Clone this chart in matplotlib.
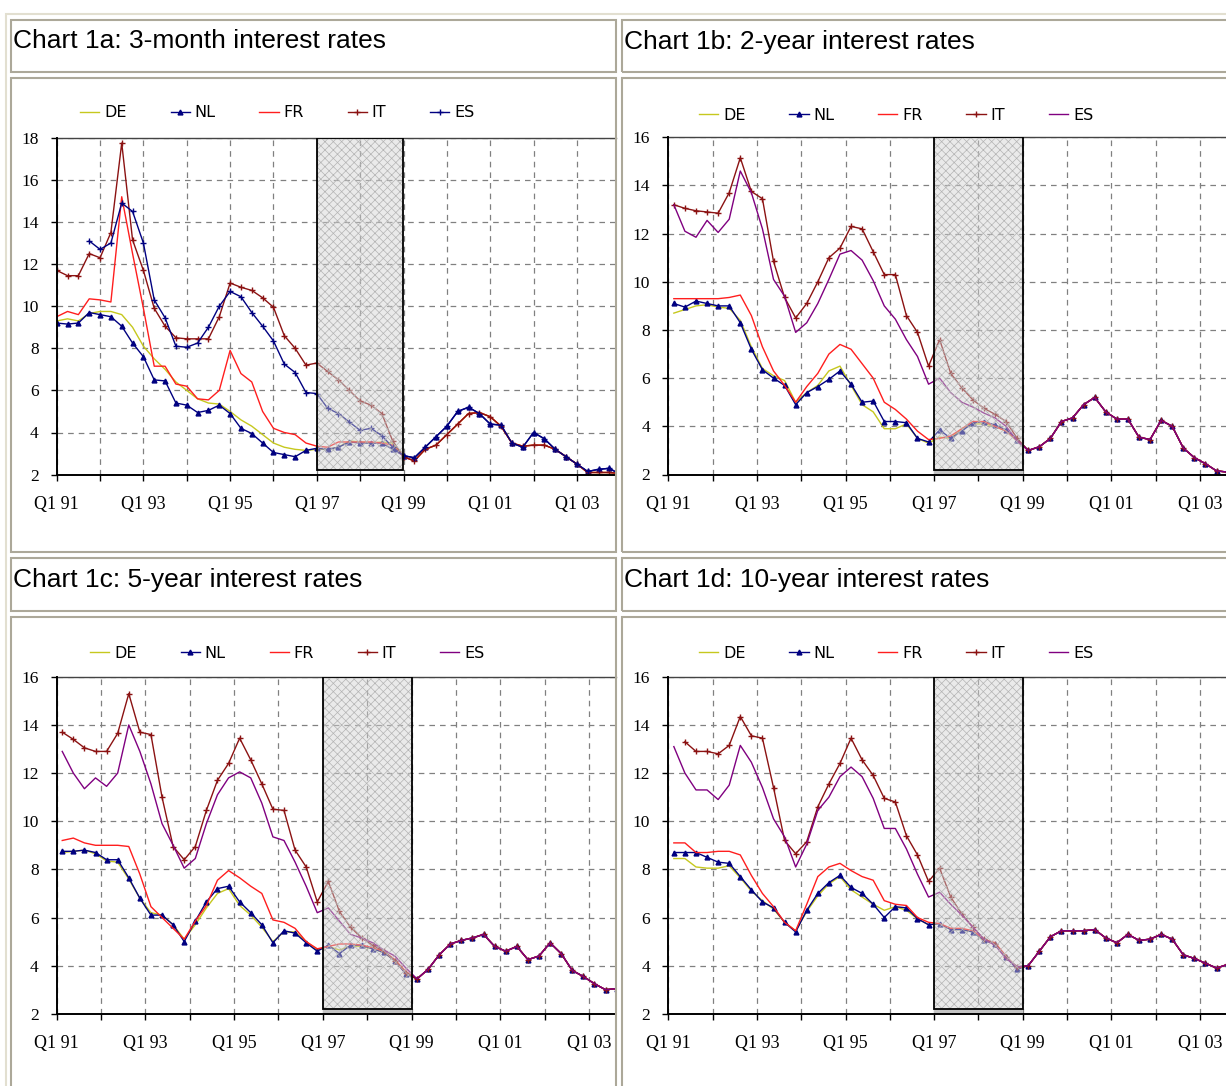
import numpy as np
import matplotlib

matplotlib.use("Agg")
import matplotlib.pyplot as plt
from matplotlib.patches import Rectangle

W, H = 1226, 1086
NAN = float("nan")

COUNTRIES = ["DE", "NL", "FR", "IT", "ES"]
YEARS = list(range(1991, 2004))

# quarterly values, Q1 1991 .. Q4 1998 (pre-EMU), then the common euro period
# Chart 1a: 3-month rates
M3_DE = [9.3, 9.4, 9.3, 9.65, 9.75, 9.75, 9.6, 9.0, 8.1, 7.5, 7.0, 6.4, 6.0, 5.6, 5.4, 5.35,
         5.0, 4.6, 4.3, 3.9, 3.5, 3.3, 3.2, 3.15, 3.2, 3.2, 3.3, 3.6, 3.55, 3.5, 3.55, 3.5]
M3_NL = [9.2, 9.15, 9.2, 9.7, 9.6, 9.5, 9.05, 8.25, 7.6, 6.5, 6.45, 5.4, 5.3, 4.95, 5.05, 5.3,
         4.9, 4.2, 3.95, 3.5, 3.05, 2.95, 2.85, 3.15, 3.25, 3.2, 3.3, 3.55, 3.5, 3.5, 3.5, 3.2]
M3_FR = [9.5, 9.75, 9.6, 10.35, 10.3, 10.2, 15.2, 12.5, 9.9, 7.15, 7.15, 6.3, 6.2, 5.6, 5.55, 6.0,
         7.9, 6.8, 6.4, 5.0, 4.2, 4.0, 3.9, 3.5, 3.35, 3.3, 3.55, 3.55, 3.55, 3.55, 3.5, 3.4]
M3_IT = [11.7, 11.45, 11.45, 12.5, 12.3, 13.5, 17.75, 13.15, 11.7, 9.9, 9.05, 8.5, 8.45, 8.45, 8.45, 9.5,
         11.1, 10.9, 10.75, 10.4, 9.95, 8.6, 8.0, 7.2, 7.3, 6.9, 6.5, 6.0, 5.5, 5.3, 4.9, 3.6]
M3_ES = [NAN, NAN, NAN, 13.1, 12.7, 13.0, 14.9, 14.5, 13.0, 10.3, 9.45, 8.1, 8.05, 8.25, 9.0, 10.0,
         10.7, 10.45, 9.7, 9.05, 8.35, 7.25, 6.85, 5.9, 5.85, 5.15, 4.9, 4.5, 4.1, 4.2, 3.85, 3.3]
M3_EMU_A = [2.9, 2.8, 3.3, 3.8, 4.3, 5.0, 5.2, 4.9, 4.4, 4.35, 3.5, 3.3, 4.0, 3.7, 3.2, 2.85,
            2.5, 2.15, 2.25, 2.3, 2.0]
M3_EMU_B = [2.85, 2.65, 3.2, 3.4, 3.9, 4.4, 4.9, 4.95, 4.75, 4.3, 3.5, 3.35, 3.4, 3.4, 3.2, 2.85,
            2.5, 2.1, 2.1, 2.1, 2.05]

# Chart 1b: 2-year rates
Y2_DE = [8.7, 8.85, 9.0, 9.05, 8.95, 8.9, 8.4, 7.3, 6.4, 6.1, 5.9, 5.0, 5.4, 5.7, 6.3, 6.5,
         5.7, 4.9, 4.6, 3.9, 3.9, 4.1, 3.5, 3.3, 3.55, 3.5, 3.9, 4.1, 4.1, 4.0, 3.8, 3.4]
Y2_NL = [9.1, 8.95, 9.2, 9.1, 9.0, 9.0, 8.3, 7.2, 6.35, 6.0, 5.7, 4.9, 5.4, 5.65, 5.95, 6.3,
         5.75, 5.0, 5.05, 4.2, 4.2, 4.15, 3.5, 3.35, 3.85, 3.5, 3.8, 4.15, 4.2, 4.05, 3.85, 3.45]
Y2_FR = [9.3, 9.3, 9.3, 9.3, 9.3, 9.35, 9.45, 8.6, 7.3, 6.3, 5.7, 5.0, 5.65, 6.2, 7.0, 7.4,
         7.2, 6.6, 6.0, 5.0, 4.7, 4.3, 3.8, 3.45, 3.5, 3.6, 3.9, 4.2, 4.2, 4.0, 3.8, 3.4]
Y2_IT = [13.2, 13.05, 12.95, 12.9, 12.85, 13.7, 15.15, 13.75, 13.45, 10.85, 9.35, 8.5, 9.1, 10.0, 11.0, 11.4,
         12.3, 12.2, 11.25, 10.3, 10.3, 8.6, 7.9, 6.5, 7.6, 6.2, 5.6, 5.1, 4.75, 4.5, 4.2, 3.5]
Y2_ES = [13.2, 12.1, 11.85, 12.55, 12.05, 12.6, 14.6, 13.7, 12.2, 10.1, 9.4, 7.9, 8.3, 9.1, 10.1, 11.15,
         11.3, 10.9, 10.05, 9.0, 8.45, 7.6, 6.9, 5.75, 6.0, 5.4, 5.0, 4.8, 4.55, 4.35, 4.0, 3.4]
Y2_EMU = [3.0, 3.15, 3.5, 4.2, 4.35, 4.9, 5.2, 4.6, 4.3, 4.3, 3.55, 3.45, 4.25, 4.0, 3.1, 2.7,
          2.45, 2.15, 2.1, 2.15]

# Chart 1c: 5-year rates
Y5_DE = [8.7, 8.75, 8.8, 8.65, 8.35, 8.3, 7.6, 6.8, 6.2, 6.1, 5.7, 5.1, 5.7, 6.4, 7.0, 7.2,
         6.5, 6.1, 5.6, 5.0, 5.4, 5.4, 5.0, 4.65, 4.8, 4.65, 4.8, 4.8, 4.7, 4.55, 4.2, 3.7]
Y5_NL = [8.75, 8.75, 8.8, 8.7, 8.4, 8.4, 7.65, 6.8, 6.1, 6.1, 5.7, 5.0, 5.85, 6.65, 7.2, 7.3,
         6.65, 6.2, 5.7, 4.95, 5.45, 5.35, 4.95, 4.6, 4.85, 4.5, 4.85, 4.85, 4.7, 4.55, 4.2, 3.65]
Y5_FR = [9.2, 9.3, 9.1, 9.0, 9.0, 9.0, 8.95, 7.8, 6.45, 6.0, 5.55, 5.1, 5.85, 6.5, 7.55, 7.95,
         7.65, 7.3, 7.0, 5.9, 5.8, 5.55, 5.0, 4.7, 4.8, 4.9, 4.9, 4.85, 4.75, 4.6, 4.25, 3.75]
Y5_IT = [13.7, 13.4, 13.05, 12.9, 12.9, 13.65, 15.3, 13.7, 13.6, 11.0, 8.95, 8.4, 8.95, 10.45, 11.7, 12.4,
         13.45, 12.55, 11.55, 10.5, 10.45, 8.8, 8.1, 6.65, 7.5, 6.25, 5.6, 5.15, 4.85, 4.6, 4.2, 3.7]
Y5_ES = [12.9, 12.0, 11.35, 11.8, 11.45, 12.0, 14.0, 12.9, 11.55, 9.9, 9.0, 8.05, 8.45, 9.9, 11.1, 11.8,
         12.05, 11.8, 10.75, 9.35, 9.2, 8.3, 7.3, 6.2, 6.4, 5.85, 5.3, 5.15, 4.95, 4.65, 4.4, 3.9]
Y5_EMU = [3.45, 3.85, 4.45, 4.9, 5.05, 5.15, 5.3, 4.8, 4.6, 4.8, 4.25, 4.4, 4.95, 4.5, 3.8, 3.55,
          3.25, 3.0, 3.05, 3.2]

# Chart 1d: 10-year rates
Y10_DE = [8.45, 8.45, 8.1, 8.05, 8.05, 8.15, 7.65, 7.1, 6.7, 6.35, 5.8, 5.45, 6.25, 6.9, 7.4, 7.7,
          7.15, 6.85, 6.55, 6.3, 6.45, 6.3, 5.95, 5.7, 5.75, 5.5, 5.5, 5.4, 5.05, 4.9, 4.35, 3.9]
Y10_NL = [8.7, 8.7, 8.7, 8.5, 8.3, 8.25, 7.7, 7.15, 6.65, 6.4, 5.8, 5.4, 6.3, 7.0, 7.45, 7.75,
          7.25, 7.0, 6.55, 6.0, 6.45, 6.4, 5.95, 5.7, 5.75, 5.5, 5.5, 5.4, 5.05, 4.9, 4.35, 3.85]
Y10_FR = [9.1, 9.1, 8.7, 8.7, 8.75, 8.75, 8.6, 7.75, 7.0, 6.45, 5.8, 5.45, 6.55, 7.7, 8.1, 8.25,
          7.95, 7.7, 7.55, 6.7, 6.55, 6.5, 6.0, 5.8, 5.75, 5.55, 5.55, 5.45, 5.1, 4.95, 4.4, 3.9]
Y10_IT = [NAN, 13.3, 12.9, 12.9, 12.8, 13.15, 14.35, 13.55, 13.45, 11.4, 9.2, 8.65, 9.15, 10.6, 11.55, 12.4,
          13.45, 12.55, 11.9, 10.95, 10.8, 9.4, 8.6, 7.5, 8.05, 6.85, 6.15, 5.6, 5.1, 4.9, 4.35, 3.95]
Y10_ES = [13.1, 12.0, 11.3, 11.3, 10.9, 11.5, 13.15, 12.45, 11.4, 10.1, 9.35, 8.1, 9.05, 10.45, 11.0, 11.85,
          12.25, 11.85, 10.95, 9.7, 9.7, 8.85, 7.8, 6.85, 7.05, 6.55, 6.1, 5.6, 5.1, 4.85, 4.3, 3.95]
Y10_EMU = [4.0, 4.6, 5.2, 5.45, 5.45, 5.45, 5.5, 5.15, 4.95, 5.3, 5.05, 5.1, 5.3, 5.1, 4.45, 4.3,
           4.1, 3.9, 4.05, 4.3]

STYLE = {
    "DE": dict(color="#c6c81e", lw=1.0),
    "NL": dict(color="#000080", lw=1.0, marker="^", ms=3.5),
    "FR": dict(color="#ff1e1e", lw=1.0),
    "IT": dict(color="#8b1212", lw=1.0, marker="+", ms=5, mew=1.0),
    "ES": dict(color="#800080", lw=1.0),
}
ES_1A = dict(color="#000080", lw=1.0, marker="+", ms=5, mew=1.0)

CHARTS = [
    dict(title="Chart 1a: 3-month interest rates", head=(13, 48.5), box=(56.7, 137.8, 616, 474.6),
         year_px=43.35, top=18, offset=0.0, leg=(0.042, 1.074),
         data={"DE": M3_DE + M3_EMU_B, "NL": M3_NL + M3_EMU_A, "FR": M3_FR + M3_EMU_B,
               "IT": M3_IT + M3_EMU_B, "ES": M3_ES + M3_EMU_A}, es=ES_1A),
    dict(title="Chart 1b: 2-year interest rates", head=(624, 48.5), box=(668.3, 137.3, 1226, 474.5),
         year_px=44.3, top=16, offset=0.5, leg=(0.055, 1.066),
         data={"DE": Y2_DE + Y2_EMU, "NL": Y2_NL + Y2_EMU, "FR": Y2_FR + Y2_EMU,
               "IT": Y2_IT + Y2_EMU, "ES": Y2_ES + Y2_EMU}, es=None),
    dict(title="Chart 1c: 5-year interest rates", head=(13, 587), box=(56.7, 676.8, 616, 1013.8),
         year_px=44.35, top=16, offset=0.5, leg=(0.06, 1.07),
         data={"DE": Y5_DE + Y5_EMU, "NL": Y5_NL + Y5_EMU, "FR": Y5_FR + Y5_EMU,
               "IT": Y5_IT + Y5_EMU, "ES": Y5_ES + Y5_EMU}, es=None),
    dict(title="Chart 1d: 10-year interest rates", head=(624, 587), box=(668.3, 676.8, 1226, 1013.8),
         year_px=44.3, top=16, offset=0.5, leg=(0.055, 1.07),
         data={"DE": Y10_DE + Y10_EMU, "NL": Y10_NL + Y10_EMU, "FR": Y10_FR + Y10_EMU,
               "IT": Y10_IT + Y10_EMU, "ES": Y10_ES + Y10_EMU}, es=None),
]

# table cells in pixels: (x0, y0, x1, y1)
CELLS = [
    (11, 20, 616, 71.7), (11, 78.3, 616, 551.7), (11, 558.3, 616, 610.7), (11, 616.7, 616, 1100),
    (621.7, 20, 1240, 71.7), (621.7, 78.3, 1240, 551.7), (621.7, 558.3, 1240, 610.7),
    (621.7, 616.7, 1240, 1100),
]

plt.rcParams["hatch.linewidth"] = 0.5


def px_rect(x0, y0, x1, y1):
    return [x0 / W, 1 - y1 / H, (x1 - x0) / W, (y1 - y0) / H]


def draw_chart(fig, cfg):
    x0, y0, x1, y1 = cfg["box"]
    ax = fig.add_axes(px_rect(x0, y0, x1, y1))
    top = cfg["top"]
    ax.set_xlim(1991, 1991 + (x1 - x0) / cfg["year_px"])
    ax.set_ylim(2, top)

    for code in COUNTRIES:
        vals = np.array(cfg["data"][code], dtype=float)
        xs = 1991 + (np.arange(len(vals)) + cfg["offset"]) / 4
        style = cfg["es"] if (code == "ES" and cfg["es"]) else STYLE[code]
        ax.plot(xs, vals, label=code, zorder=3, **style)

    # EMU convergence window Q1 97 - Q1 99
    if top == 16:
        ax.add_patch(Rectangle((1997, 2), 2, 0.2, facecolor="#c4c4c4", lw=0, zorder=4))
    ax.add_patch(Rectangle((1997, 2.2), 2, top - 2.2, facecolor=(0.82, 0.82, 0.82, 0.45),
                           edgecolor="#b4b4b4", hatch="xxxx", lw=0, zorder=4))
    ax.add_patch(Rectangle((1997, 2.2), 2, top - 2.2, fill=False, edgecolor="black",
                           lw=1.3, zorder=5))

    ax.set_yticks(range(2, top + 1, 2))
    ax.set_xticks(YEARS)
    ax.set_xticklabels([f"Q1 {y % 100:02d}" if (y - 1991) % 2 == 0 else "" for y in YEARS])
    ax.grid(True, color="#808080", linestyle=(0, (4.5, 4)), lw=0.9, zorder=1)
    ax.tick_params(axis="x", direction="out", length=4.5, width=1, pad=11,
                   labelsize=13, labelfontfamily="Liberation Serif")
    ax.tick_params(axis="y", direction="out", length=4, width=1, pad=9,
                   labelsize=12.5, labelfontfamily="Liberation Serif")
    ax.spines["right"].set_visible(False)
    ax.spines["top"].set_color("#444444")
    ax.spines["top"].set_linewidth(1.0)
    for side in ("left", "bottom"):
        ax.spines[side].set_linewidth(1.4)
        ax.spines[side].set_zorder(6)

    ax.legend(ncol=5, loc="center left", bbox_to_anchor=cfg["leg"], frameon=False,
              handlelength=1.2, handletextpad=0.3, columnspacing=2.75, borderpad=0,
              borderaxespad=0, prop=dict(family="DejaVu Sans", size=11.5))

    hx, hy = cfg["head"]
    fig.text(hx / W, 1 - hy / H, cfg["title"], fontsize=19, family="Liberation Sans",
             va="baseline", ha="left")
    return ax


fig = plt.figure(figsize=(W / 100, H / 100), dpi=100)
fig.patch.set_facecolor("white")

# outer table border
fig.add_artist(Rectangle((6 / W, 1 - 1100 / H), (1240 - 6) / W, (1100 - 14) / H,
                         transform=fig.transFigure, fill=False, ec="#e2dfd0", lw=1.5))
for cx0, cy0, cx1, cy1 in CELLS:
    fig.add_artist(Rectangle((cx0 / W, 1 - cy1 / H), (cx1 - cx0) / W, (cy1 - cy0) / H,
                             transform=fig.transFigure, fill=False, ec="#aca899", lw=1.5))

for cfg in CHARTS:
    draw_chart(fig, cfg)

fig.savefig("out.png", dpi=100)
